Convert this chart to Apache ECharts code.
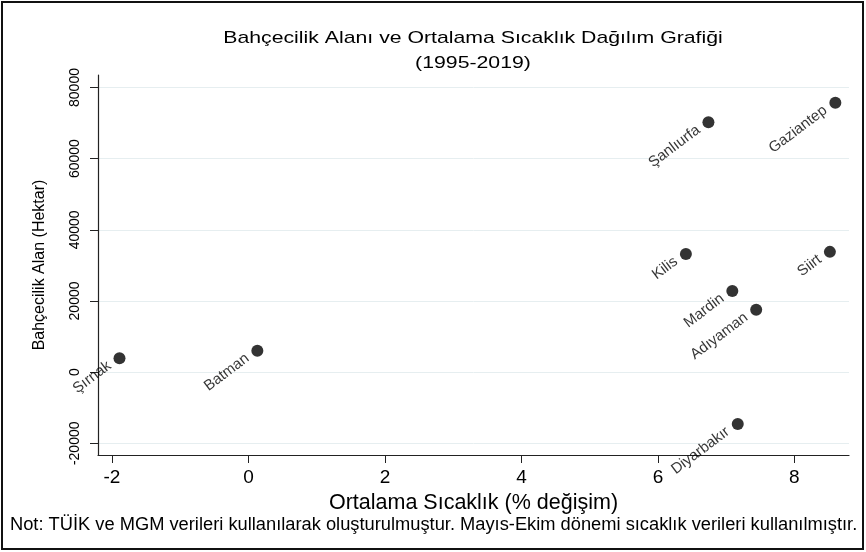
<!DOCTYPE html>
<html>
<head>
<meta charset="utf-8">
<script src="https://cdn.jsdelivr.net/npm/echarts@6/dist/echarts.min.js"></script>
<style>
    html, body { margin: 0; padding: 0; background: #fff; }
    #chart { width: 866px; height: 552px; }
</style>
</head>
<body>
<div id="chart"></div>
<script>
// il adları ve değerler
const provinces = ['Şırnak', 'Batman', 'Şanlıurfa', 'Gaziantep', 'Kilis', 'Siirt', 'Mardin', 'Adıyaman', 'Diyarbakır'];
const tempChange = [-1.89, 0.13, 6.74, 8.60, 6.41, 8.52, 7.09, 7.44, 7.17];
const areaHa = [3900, 6000, 70200, 75700, 33200, 33800, 22800, 17500, -14600];

const xTicks = [-2, 0, 2, 4, 6, 8];
const yTicks = [-20000, 0, 20000, 40000, 60000, 80000];

const chart = echarts.init(document.getElementById('chart'));
const font = '"Liberation Sans", Arial, sans-serif';

const points = tempChange.map((x, i) => ({ value: [x, areaHa[i]], name: provinces[i] }));

const option = {
    animation: false,
    backgroundColor: '#fff',
    textStyle: { fontFamily: font },
    grid: { left: 98, right: 17, top: 75, bottom: 97 },
    xAxis: {
        type: 'value',
        min: -2.205,
        max: 8.80,
        name: 'Ortalama Sıcaklık (% değişim)',
        nameLocation: 'middle',
        nameGap: 30,
        nameTextStyle: { fontSize: 21.5, color: '#000' },
        axisLine: { show: true, onZero: false, lineStyle: { color: '#222', width: 1.2 } },
        axisTick: { show: true, length: 8, lineStyle: { color: '#222' }, customValues: xTicks },
        axisLabel: { fontSize: 19, color: '#000', margin: 13, customValues: xTicks, formatter: v => String(v) },
        splitLine: { show: false }
    },
    yAxis: {
        type: 'value',
        min: -23290,
        max: 83510,
        name: 'Bahçecilik Alan (Hektar)',
        nameLocation: 'middle',
        nameGap: 50,
        nameTextStyle: { fontSize: 16, color: '#000' },
        axisLine: { show: true, onZero: false, lineStyle: { color: '#222', width: 1.2 } },
        axisTick: { show: true, length: 8, lineStyle: { color: '#222' }, customValues: yTicks },
        axisLabel: { fontSize: 14, color: '#000', rotate: 90, margin: 16, customValues: yTicks, formatter: v => String(v) },
        splitLine: { show: true, lineStyle: { color: '#e6eef0', width: 1 } }
    },
    series: [{
        type: 'scatter',
        data: points,
        symbol: 'circle',
        symbolSize: 12,
        itemStyle: { color: '#000' },
        label: {
            show: true,
            formatter: p => p.name,
            position: [-4, 12],
            align: 'right',
            verticalAlign: 'middle',
            rotate: 37,
            fontSize: 15,
            color: '#000'
        }
    }],
    graphic: [
        {
            type: 'rect',
            shape: { x: 2, y: 2, width: 861, height: 547 },
            style: { fill: 'none', stroke: '#111', lineWidth: 2 },
            silent: true
        },
        // başlık (yatayda hafif genişletilmiş)
        {
            type: 'text',
            x: 473,
            y: 38,
            scaleX: 1.25,
            style: {
                text: 'Bahçecilik Alanı ve Ortalama Sıcaklık Dağılım Grafiği',
                fontSize: 17,
                fill: '#000',
                fontFamily: font,
                align: 'center',
                verticalAlign: 'middle'
            }
        },
        {
            type: 'text',
            x: 473,
            y: 63,
            scaleX: 1.25,
            style: {
                text: '(1995-2019)',
                fontSize: 17,
                fill: '#000',
                fontFamily: font,
                align: 'center',
                verticalAlign: 'middle'
            }
        },
        {
            type: 'text',
            left: 10,
            top: 516,
            style: {
                text: 'Not: TÜİK ve MGM verileri kullanılarak oluşturulmuştur. Mayıs-Ekim dönemi sıcaklık verileri kullanılmıştır.',
                fontSize: 18.3,
                fill: '#000',
                fontFamily: font
            }
        }
    ]
};

chart.setOption(option);

window.addEventListener('resize', () => {
    chart.resize();
});
</script>
</body>
</html>
